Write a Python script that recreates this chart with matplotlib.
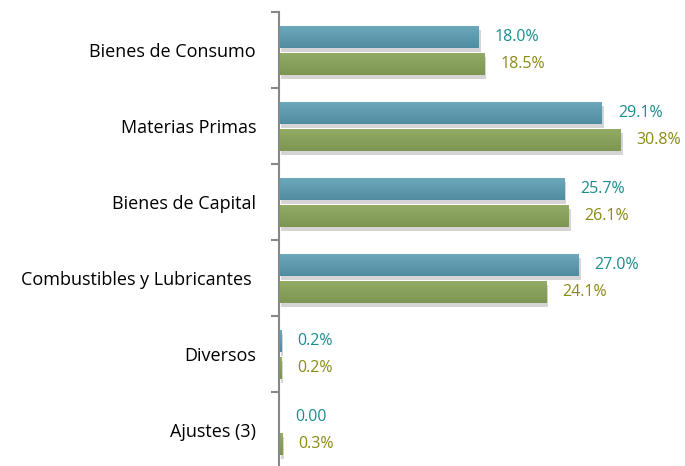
import matplotlib
matplotlib.use("Agg")
import matplotlib.pyplot as plt
import matplotlib.patheffects as pe
import numpy as np
from matplotlib.colors import LinearSegmentedColormap

# data
categories = ["Bienes de Consumo", "Materias Primas", "Bienes de Capital",
              "Combustibles y Lubricantes ", "Diversos", "Ajustes (3)"]
series_a = [18.0, 29.1, 25.7, 27.0, 0.2, 0.0]
series_b = [18.5, 30.8, 26.1, 24.1, 0.2, 0.3]
labels_a = ["18.0%", "29.1%", "25.7%", "27.0%", "0.2%", "0.00"]
labels_b = ["18.5%", "30.8%", "26.1%", "24.1%", "0.2%", "0.3%"]

blue = "#5f9cb0"
green = "#86a05b"
blue_txt = "#1b8c8c"
green_txt = "#8a8a14"
blue_grad = LinearSegmentedColormap.from_list("b", ["#6eaabd", "#4f8ca0"])
green_grad = LinearSegmentedColormap.from_list("g", ["#93ad67", "#7c9551"])

plt.rcParams["font.family"] = ["Open Sans", "DejaVu Sans"]

fig = plt.figure(figsize=(6.85, 4.66), dpi=100)
ax = fig.add_axes([279 / 685, -2 / 466, 406 / 685, 456 / 466])

shadow = [pe.SimplePatchShadow(offset=(1.5, -3), shadow_rgbFace="#888888", alpha=0.35), pe.Normal()]
pos = list(range(len(categories)))
h = 0.29
bars_a = ax.barh([p - 0.175 for p in pos], series_a, height=h, color=blue, path_effects=shadow)
bars_b = ax.barh([p + 0.18 for p in pos], series_b, height=h, color=green, path_effects=shadow)

# vertical gradient on each bar, lighter at the top
grad = np.linspace(0, 1, 64).reshape(-1, 1)
for bars, cmap in [(bars_a, blue_grad), (bars_b, green_grad)]:
    for bar in bars:
        if bar.get_width() <= 0:
            continue
        x0, y0 = bar.get_x(), bar.get_y()
        im = ax.imshow(grad, cmap=cmap, aspect="auto", origin="upper",
                       extent=[x0, x0 + bar.get_width(), y0 + bar.get_height(), y0],
                       zorder=bar.get_zorder() + 0.1)
        im.set_clip_path(bar)

for bar, txt in zip(bars_a, labels_a):
    ax.annotate(txt, (bar.get_width(), bar.get_y() + bar.get_height() / 2),
                xytext=(11.5, 0), textcoords="offset points", va="center", ha="left",
                color=blue_txt, fontsize=11.5)
for bar, txt in zip(bars_b, labels_b):
    ax.annotate(txt, (bar.get_width(), bar.get_y() + bar.get_height() / 2),
                xytext=(11.5, 0), textcoords="offset points", va="center", ha="left",
                color=green_txt, fontsize=11.5)

ax.set_xlim(0, 36.6)
ax.set_ylim(5.5, -0.5)
ax.set_yticks(pos)
ax.set_yticklabels(categories, fontsize=13)
ax.set_yticks([p - 0.5 for p in range(len(categories) + 1)], minor=True)
ax.tick_params(axis="y", which="major", length=0, pad=16.5)
ax.tick_params(axis="y", which="minor", length=6, width=1.5, color="#888888")
ax.set_xticks([])
for side in ["top", "right", "bottom"]:
    ax.spines[side].set_visible(False)
ax.spines["left"].set_color("#888888")
ax.spines["left"].set_linewidth(1.5)

fig.savefig("out.png", dpi=100)
